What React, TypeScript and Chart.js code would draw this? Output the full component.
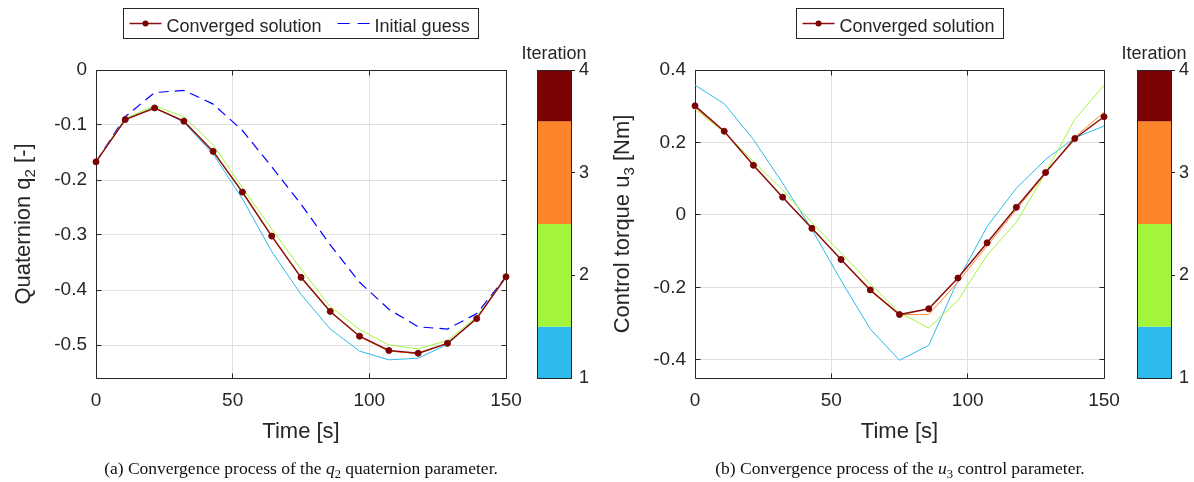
import React, { useEffect, useRef } from "react";
import { Chart, registerables } from "chart.js";

Chart.register(...registerables);

// ---------- data ----------
const TIME = [0, 10.71, 21.43, 32.14, 42.86, 53.57, 64.29, 75, 85.71, 96.43, 107.14, 117.86, 128.57, 139.29, 150];

const Q2_ITER1 = [-0.167, -0.09, -0.068, -0.095, -0.153, -0.234, -0.33, -0.408, -0.471, -0.511, -0.527, -0.524, -0.499, -0.45, -0.376];
const Q2_ITER2 = [-0.167, -0.088, -0.065, -0.085, -0.136, -0.214, -0.289, -0.362, -0.43, -0.472, -0.5, -0.507, -0.492, -0.449, -0.376];
const Q2_ITER3 = [-0.167, -0.09, -0.069, -0.093, -0.149, -0.223, -0.303, -0.378, -0.44, -0.485, -0.511, -0.516, -0.497, -0.452, -0.376];
const Q2_CONVERGED = [-0.167, -0.09, -0.069, -0.093, -0.148, -0.222, -0.302, -0.377, -0.439, -0.484, -0.51, -0.515, -0.497, -0.452, -0.376];
const Q2_INITIAL = [-0.167, -0.085, -0.041, -0.037, -0.062, -0.11, -0.176, -0.244, -0.318, -0.386, -0.435, -0.467, -0.471, -0.443, -0.376];

const U3_ITER1 = [0.358, 0.307, 0.208, 0.088, -0.04, -0.181, -0.315, -0.401, -0.36, -0.18, -0.032, 0.074, 0.153, 0.213, 0.245];
const U3_ITER2 = [0.292, 0.228, 0.148, 0.069, -0.021, -0.105, -0.19, -0.27, -0.312, -0.236, -0.111, -0.02, 0.116, 0.264, 0.358];
const U3_ITER3 = [0.297, 0.23, 0.137, 0.048, -0.036, -0.124, -0.21, -0.275, -0.275, -0.185, -0.085, 0.015, 0.115, 0.215, 0.283];
const U3_CONVERGED = [0.301, 0.231, 0.137, 0.049, -0.037, -0.123, -0.207, -0.275, -0.259, -0.174, -0.077, 0.021, 0.117, 0.211, 0.271];

const X_TICKS = [0, 50, 100, 150];
const Q2_TICKS = [-0.5, -0.4, -0.3, -0.2, -0.1, 0];
const U3_TICKS = [-0.4, -0.2, 0, 0.2, 0.4];
const ITER_TICKS = [1, 2, 3, 4];
const ITER_BOUNDS = [1, 1.5, 2.5, 3.5, 4];
const ITER_COLORS = ["#2cbbec", "#a3f53c", "#fb8528", "#7b0303"];

const LEGEND_CONV = "Converged solution";
const LEGEND_INIT = "Initial guess";
const X_TITLE = "Time [s]";
const CB_TITLE = "Iteration";

// ---------- styles ----------
const SANS = "'Liberation Sans', Arial, Helvetica, sans-serif";
const SERIF = "'Liberation Serif', 'Times New Roman', serif";
const AXIS = "#262626";
const GRID = "#e0e0e0";
const CONV_LINE = "#8a0f0f";
const CONV_MARK = "#7b0303";
const INIT_LINE = "#0000ff";

type Part = { t: string; sub?: boolean };
type LegendItem = { label: string; kind: "conv" | "dash" };

const alignPx = (p: number) => Math.round(p - 0.5) + 0.5;

function drawParts(ctx: CanvasRenderingContext2D, parts: Part[], cx: number, baseY: number, size: number) {
  const subSize = Math.round(size * 0.7);
  const widths = parts.map((p) => {
    ctx.font = `${p.sub ? subSize : size}px ${SANS}`;
    return ctx.measureText(p.t).width;
  });
  const total = widths.reduce((a, b) => a + b, 0);
  let x = cx - total / 2;
  ctx.textAlign = "left";
  ctx.textBaseline = "alphabetic";
  parts.forEach((p, i) => {
    ctx.font = `${p.sub ? subSize : size}px ${SANS}`;
    ctx.fillText(p.t, x, baseY + (p.sub ? 5 : 0));
    x += widths[i];
  });
}

function makeDecor(cfg: { yTitle: Part[]; legend: LegendItem[]; cbOffset: number; yTicks: number[] }) {
  return {
    id: "decor",
    beforeDatasetsDraw(chart: any) {
      const { ctx, chartArea: a, scales } = chart;
      ctx.save();
      ctx.strokeStyle = AXIS;
      ctx.lineWidth = 1;
      const L = alignPx(a.left), R = alignPx(a.right), T = alignPx(a.top), B = alignPx(a.bottom);
      ctx.beginPath();
      ctx.rect(L, T, R - L, B - T);
      ctx.stroke();
      const tl = 5;
      ctx.beginPath();
      X_TICKS.forEach((v) => {
        const px = alignPx(scales.x.getPixelForValue(v));
        ctx.moveTo(px, B); ctx.lineTo(px, B - tl);
        ctx.moveTo(px, T); ctx.lineTo(px, T + tl);
      });
      cfg.yTicks.forEach((v) => {
        const py = alignPx(scales.y.getPixelForValue(v));
        ctx.moveTo(L, py); ctx.lineTo(L + tl, py);
        ctx.moveTo(R, py); ctx.lineTo(R - tl, py);
      });
      ctx.stroke();
      ctx.restore();
    },
    afterDraw(chart: any) {
      const { ctx, chartArea: a } = chart;
      ctx.save();
      ctx.fillStyle = AXIS;

      // x title
      drawParts(ctx, [{ t: X_TITLE }], (a.left + a.right) / 2, 438, 22);

      // y title (rotated)
      ctx.save();
      ctx.translate(a.left - 66, (a.top + a.bottom) / 2);
      ctx.rotate(-Math.PI / 2);
      drawParts(ctx, cfg.yTitle, 0, 0, 22);
      ctx.restore();

      // legend
      ctx.font = `18px ${SANS}`;
      const padL = 6, sample = 32, gap = 5, between = 16, padR = 9;
      const tw = cfg.legend.map((it) => ctx.measureText(it.label).width);
      let w = padL + padR;
      cfg.legend.forEach((_, i) => { w += sample + gap + tw[i] + (i > 0 ? between : 0); });
      w = Math.round(w);
      const bx = alignPx((a.left + a.right) / 2 - w / 2);
      const by = 8.5, bh = 30;
      ctx.fillStyle = "#ffffff";
      ctx.fillRect(bx, by, w, bh);
      ctx.strokeStyle = AXIS;
      ctx.lineWidth = 1;
      ctx.strokeRect(bx, by, w, bh);
      let x = bx + padL;
      const ly = by + bh / 2;
      cfg.legend.forEach((it, i) => {
        if (i > 0) x += between;
        ctx.save();
        if (it.kind === "conv") {
          ctx.strokeStyle = CONV_LINE;
          ctx.lineWidth = 1.5;
          ctx.beginPath(); ctx.moveTo(x, ly); ctx.lineTo(x + sample, ly); ctx.stroke();
          ctx.fillStyle = CONV_MARK;
          ctx.beginPath(); ctx.arc(x + sample / 2, ly, 3, 0, Math.PI * 2); ctx.fill();
        } else {
          ctx.strokeStyle = INIT_LINE;
          ctx.lineWidth = 1.2;
          ctx.setLineDash([12, 8]);
          ctx.beginPath(); ctx.moveTo(x, ly); ctx.lineTo(x + sample, ly); ctx.stroke();
        }
        ctx.restore();
        x += sample + gap;
        ctx.fillStyle = AXIS;
        ctx.font = `18px ${SANS}`;
        ctx.textAlign = "left";
        ctx.textBaseline = "alphabetic";
        ctx.fillText(it.label, x, by + 23);
        x += tw[i];
      });

      // colorbar
      const cbL = a.right + cfg.cbOffset, cbW = 34;
      const top = a.top, bot = a.bottom;
      const yOf = (v: number) => bot - ((v - 1) / 3) * (bot - top);
      ITER_COLORS.forEach((c, i) => {
        const y1 = yOf(ITER_BOUNDS[i + 1]);
        const y0 = yOf(ITER_BOUNDS[i]);
        ctx.fillStyle = c;
        ctx.fillRect(cbL, y1, cbW, y0 - y1);
      });
      ctx.strokeStyle = AXIS;
      ctx.lineWidth = 1;
      ctx.strokeRect(cbL + 0.5, alignPx(top), cbW, Math.round(bot - top));
      ctx.fillStyle = AXIS;
      ctx.font = `18px ${SANS}`;
      ctx.textAlign = "left";
      ctx.textBaseline = "middle";
      ctx.beginPath();
      ITER_TICKS.forEach((v) => {
        const y = alignPx(yOf(v));
        if (v > 1) { ctx.moveTo(cbL + cbW, y); ctx.lineTo(cbL + cbW + 4, y); }
        ctx.fillText(String(v), cbL + cbW + 8, yOf(v));
      });
      ctx.stroke();
      ctx.textAlign = "center";
      ctx.textBaseline = "alphabetic";
      ctx.fillText(CB_TITLE, cbL + cbW / 2, 58.5);
      ctx.restore();
    },
  };
}

const pts = (ys: number[]) => TIME.map((t, i) => ({ x: t, y: ys[i] }));
const iterDs = (ys: number[], color: string) => ({
  data: pts(ys), borderColor: color, borderWidth: 1, pointRadius: 0, pointHoverRadius: 0,
  fill: false, tension: 0, clip: false,
});
const convDs = (ys: number[]) => ({
  data: pts(ys), borderColor: CONV_LINE, borderWidth: 1.5, pointRadius: 3, pointHoverRadius: 3,
  pointBackgroundColor: CONV_MARK, pointBorderColor: CONV_MARK, pointBorderWidth: 1,
  fill: false, tension: 0, clip: false,
});

type PanelProps = {
  left: number; datasets: any[]; yMin: number; yMax: number; yTicks: number[];
  yWidth: number; padRight: number; yTitle: Part[]; legend: LegendItem[]; cbOffset: number;
};

function Panel(p: PanelProps) {
  const ref = useRef<HTMLCanvasElement>(null);
  useEffect(() => {
    const tickFont = { family: SANS, size: 19 };
    const chart = new Chart(ref.current as HTMLCanvasElement, {
      type: "line",
      data: { datasets: p.datasets },
      options: {
        animation: false,
        responsive: false,
        maintainAspectRatio: false,
        devicePixelRatio: 1,
        events: [],
        layout: { padding: { left: 0, right: p.padRight, top: 70, bottom: 0 } },
        plugins: { legend: { display: false }, tooltip: { enabled: false }, title: { display: false } },
        scales: {
          x: {
            type: "linear", min: 0, max: 150,
            afterBuildTicks: (s: any) => { s.ticks = X_TICKS.map((v) => ({ value: v })); },
            afterFit: (s: any) => { s.height = 104; },
            grid: { color: GRID, lineWidth: 1, drawTicks: false },
            border: { display: false },
            ticks: { font: tickFont, color: AXIS, padding: 11, maxRotation: 0, autoSkip: false, callback: (v: any) => String(v) },
          },
          y: {
            type: "linear", min: p.yMin, max: p.yMax,
            afterBuildTicks: (s: any) => { s.ticks = p.yTicks.map((v) => ({ value: v })); },
            afterFit: (s: any) => { s.width = p.yWidth; },
            grid: { color: GRID, lineWidth: 1, drawTicks: false },
            border: { display: false },
            ticks: { font: tickFont, color: AXIS, padding: 9, autoSkip: false, callback: (v: any) => String(v) },
          },
        },
      } as any,
      plugins: [makeDecor({ yTitle: p.yTitle, legend: p.legend, cbOffset: p.cbOffset, yTicks: p.yTicks })],
    });
    return () => chart.destroy();
  }, []);
  return (
    <canvas
      ref={ref}
      width={597}
      height={482}
      style={{ position: "absolute", left: p.left, top: 0, width: 597, height: 482 }}
    />
  );
}

const subStyle: React.CSSProperties = { fontSize: "0.72em", position: "relative", top: "0.28em", fontStyle: "normal" };
const capStyle = (center: number): React.CSSProperties => ({
  position: "absolute", left: center - 300, width: 600, top: 459, textAlign: "center",
  fontFamily: SERIF, fontSize: 17.5, lineHeight: "19px", color: "#111111", whiteSpace: "nowrap",
});

export default function App() {
  const q2Sets = [
    convDs(Q2_CONVERGED),
    iterDs(Q2_ITER3, ITER_COLORS[2]),
    iterDs(Q2_ITER2, ITER_COLORS[1]),
    iterDs(Q2_ITER1, ITER_COLORS[0]),
    { data: pts(Q2_INITIAL), borderColor: INIT_LINE, borderWidth: 1.2, borderDash: [10, 6], pointRadius: 0, pointHoverRadius: 0, fill: false, tension: 0, clip: false },
  ];
  const u3Sets = [
    convDs(U3_CONVERGED),
    iterDs(U3_ITER3, ITER_COLORS[2]),
    iterDs(U3_ITER2, ITER_COLORS[1]),
    iterDs(U3_ITER1, ITER_COLORS[0]),
  ];
  return (
    <div style={{ position: "absolute", left: 0, top: 0, width: 1194, height: 482, overflow: "hidden", background: "#fff" }}>
      <Panel
        left={0} datasets={q2Sets} yMin={-0.56} yMax={0} yTicks={Q2_TICKS} yWidth={96} padRight={91}
        yTitle={[{ t: "Quaternion q" }, { t: "2", sub: true }, { t: " [-]" }]}
        legend={[{ label: LEGEND_CONV, kind: "conv" }, { label: LEGEND_INIT, kind: "dash" }]}
        cbOffset={31}
      />
      <Panel
        left={597} datasets={u3Sets} yMin={-0.45} yMax={0.4} yTicks={U3_TICKS} yWidth={98} padRight={90}
        yTitle={[{ t: "Control torque u" }, { t: "3", sub: true }, { t: " [Nm]" }]}
        legend={[{ label: LEGEND_CONV, kind: "conv" }]}
        cbOffset={33}
      />
      <div style={capStyle(301)}>
        (a) Convergence process of the <i>q</i><span style={subStyle}>2</span> quaternion parameter.
      </div>
      <div style={capStyle(900)}>
        (b) Convergence process of the <i>u</i><span style={subStyle}>3</span> control parameter.
      </div>
    </div>
  );
}
